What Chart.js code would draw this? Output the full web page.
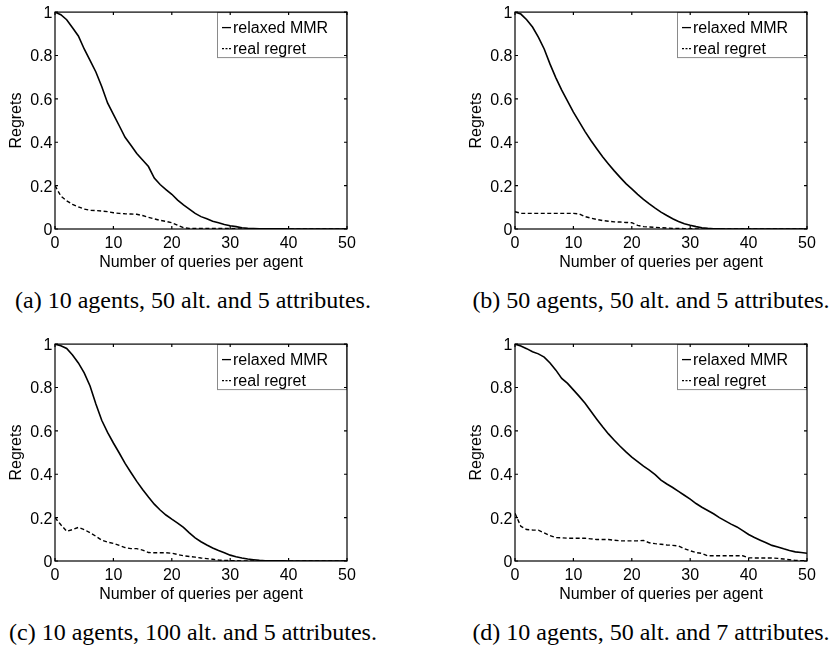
<!DOCTYPE html>
<html>
<head>
<meta charset="utf-8">
<script src="https://cdn.jsdelivr.net/npm/chart.js@4.4.1/dist/chart.umd.min.js"></script>
<style>
  html, body { margin: 0; padding: 0; background: #fff; }
  #wrap { position: relative; width: 832px; height: 650px; overflow: hidden; }
  canvas { position: absolute; }
  .cap { position: absolute; width: 420px; margin-left: -210px; text-align: center;
         font-family: 'Liberation Serif', 'Times New Roman', serif; font-size: 24px;
         line-height: 28px; white-space: nowrap; color: #000; }
</style>
</head>
<body>
<div id="wrap">
  <canvas id="ca" width="372" height="280" style="left:0px;top:0px"></canvas>
  <canvas id="cb" width="372" height="280" style="left:460px;top:0px"></canvas>
  <canvas id="cc" width="372" height="280" style="left:0px;top:332px"></canvas>
  <canvas id="cd" width="372" height="280" style="left:460px;top:332px"></canvas>
  <div class="cap" style="left:193px;top:286px">(a) 10 agents, 50 alt. and 5 attributes.</div>
  <div class="cap" style="left:651px;top:286px">(b) 50 agents, 50 alt. and 5 attributes.</div>
  <div class="cap" style="left:193px;top:618px">(c) 10 agents, 100 alt. and 5 attributes.</div>
  <div class="cap" style="left:651px;top:618px">(d) 10 agents, 50 alt. and 7 attributes.</div>
</div>
<script>
// ---------- data ----------
const queries = [0,1,2,3,4,5,6,7,8,9,10,11,12,13,14,15,16,17,18,19,20,21,22,23,24,25,26,27,28,29,30,31,32,33,34,35,36,37,38,39,40,41,42,43,44,45,46,47,48,49,50];
const seriesNames = ['relaxed MMR', 'real regret'];
const xTicks = [0, 10, 20, 30, 40, 50];
const yTicks = [0, 0.2, 0.4, 0.6, 0.8, 1];

// (a) 10 agents, 50 alt., 5 attributes
const mmrA  = [1.0,0.988,0.965,0.928,0.89,0.83,0.777,0.724,0.657,0.581,0.529,0.476,0.423,0.386,0.348,0.318,0.288,0.235,0.205,0.182,0.16,0.133,0.111,0.092,0.072,0.057,0.047,0.036,0.029,0.021,0.015,0.011,0.006,0.003,0.002,0.001,0.001,0.001,0.0005,0.0005,0,0,0,0,0,0,0,0,0,0,0];
const realA = [0.2,0.152,0.13,0.114,0.102,0.092,0.086,0.085,0.083,0.08,0.075,0.072,0.07,0.069,0.068,0.062,0.054,0.047,0.04,0.035,0.029,0.017,0.006,0.003,0.003,0.003,0.003,0.003,0.003,0.003,0.003,0.001,0,0,0,0,0,0,0,0,0,0,0,0,0,0,0,0,0,0,0];
// (b) 50 agents, 50 alt., 5 attributes
const mmrB  = [1.0,0.991,0.965,0.931,0.885,0.83,0.76,0.697,0.64,0.589,0.539,0.494,0.449,0.408,0.37,0.333,0.3,0.268,0.238,0.209,0.185,0.16,0.137,0.116,0.096,0.078,0.062,0.047,0.035,0.024,0.017,0.011,0.006,0.003,0.0015,0.0005,0,0,0,0,0,0,0,0,0,0,0,0,0,0,0];
const realB = [0.08,0.072,0.072,0.072,0.072,0.072,0.072,0.072,0.072,0.072,0.072,0.069,0.057,0.05,0.044,0.039,0.036,0.033,0.032,0.03,0.029,0.017,0.011,0.009,0.0075,0.006,0.0045,0.003,0.003,0.0015,0.0015,0,0,0,0,0,0,0,0,0,0,0,0,0,0,0,0,0,0,0,0];
// (c) 10 agents, 100 alt., 5 attributes
const mmrC  = [1.0,0.992,0.98,0.95,0.913,0.867,0.807,0.724,0.649,0.593,0.544,0.498,0.45,0.408,0.367,0.33,0.295,0.262,0.235,0.212,0.193,0.175,0.155,0.13,0.107,0.089,0.074,0.06,0.048,0.038,0.027,0.02,0.014,0.009,0.006,0.003,0.0015,0.0005,0.0005,0.0005,0,0,0,0,0,0,0,0,0,0,0];
const realC = [0.2,0.167,0.137,0.145,0.155,0.145,0.13,0.114,0.096,0.087,0.081,0.072,0.062,0.057,0.057,0.05,0.039,0.038,0.038,0.038,0.036,0.03,0.024,0.021,0.018,0.014,0.011,0.008,0.0045,0.003,0.0015,0.0015,0,0,0,0,0,0,0,0,0,0,0,0,0,0,0,0,0,0,0];
// (d) 10 agents, 50 alt., 7 attributes
const mmrD  = [1.0,0.991,0.979,0.965,0.955,0.94,0.913,0.88,0.842,0.819,0.789,0.759,0.727,0.69,0.654,0.619,0.586,0.557,0.529,0.503,0.479,0.458,0.437,0.419,0.398,0.373,0.355,0.339,0.321,0.303,0.285,0.265,0.248,0.233,0.218,0.2,0.185,0.17,0.157,0.14,0.122,0.108,0.096,0.084,0.072,0.065,0.056,0.048,0.042,0.039,0.036];
const realD = [0.22,0.16,0.145,0.143,0.142,0.13,0.117,0.108,0.107,0.105,0.105,0.105,0.105,0.102,0.099,0.099,0.099,0.096,0.093,0.093,0.093,0.093,0.095,0.084,0.08,0.077,0.074,0.072,0.069,0.057,0.047,0.039,0.035,0.024,0.024,0.024,0.024,0.024,0.024,0.024,0.015,0.014,0.014,0.014,0.014,0.012,0.009,0.006,0.003,0.0015,0.001];

// ---------- plugins ----------
const FONT = "'Liberation Sans', Arial, Helvetica, sans-serif";

const legendBoxPlugin = {
  id: 'legendBox',
  afterDatasetsDraw(chart) {
    const {ctx, chartArea: a} = chart;
    const w = 130, h = 45;
    const lx = a.right - w, ly = a.top;
    ctx.save();
    ctx.fillStyle = '#fff';
    ctx.fillRect(lx, ly, w, h);
    ctx.strokeStyle = '#8a8a8a';
    ctx.lineWidth = 1;
    ctx.strokeRect(lx + 0.5, ly + 0.5, w - 1, h);
    ctx.font = '16px ' + FONT;
    ctx.textBaseline = 'middle';
    ctx.textAlign = 'left';
    chart.data.datasets.forEach((ds, i) => {
      const ry = ly + 15.5 + i * 21;
      ctx.strokeStyle = '#000';
      ctx.lineWidth = 1.3;
      ctx.setLineDash(i === 0 ? [] : [2, 1.5]);
      ctx.beginPath();
      ctx.moveTo(lx + 5, ry);
      ctx.lineTo(lx + 14, ry);
      ctx.stroke();
      ctx.setLineDash([]);
      ctx.fillStyle = '#000';
      ctx.fillText(ds.label, lx + 16, ry + 1);
    });
    ctx.restore();
  }
};

const framePlugin = {
  id: 'frame',
  afterDraw(chart) {
    const {ctx, chartArea: a, scales: {x, y}} = chart;
    const tl = 3;
    ctx.save();
    ctx.strokeStyle = '#000';
    ctx.lineWidth = 1.2;
    ctx.strokeRect(a.left, a.top, a.right - a.left, a.bottom - a.top);
    ctx.beginPath();
    x.ticks.forEach(t => {
      const px = x.getPixelForValue(t.value);
      ctx.moveTo(px, a.bottom); ctx.lineTo(px, a.bottom - tl);
      ctx.moveTo(px, a.top); ctx.lineTo(px, a.top + tl);
    });
    y.ticks.forEach(t => {
      const py = y.getPixelForValue(t.value);
      ctx.moveTo(a.left, py); ctx.lineTo(a.left + tl, py);
      ctx.moveTo(a.right, py); ctx.lineTo(a.right - tl, py);
    });
    ctx.stroke();
    ctx.restore();
  }
};

// ---------- charts ----------
Chart.defaults.font.family = FONT;
Chart.defaults.font.size = 16;
Chart.defaults.color = '#000';

function makeChart(id, mmr, real) {
  const toPts = vals => queries.map((q, i) => ({x: q, y: vals[i]}));
  return new Chart(document.getElementById(id), {
    type: 'line',
    data: {
      datasets: [
        { label: seriesNames[0], data: toPts(mmr), borderColor: '#000', borderWidth: 1.6,
          pointRadius: 0, tension: 0, fill: false },
        { label: seriesNames[1], data: toPts(real), borderColor: '#000', borderWidth: 1.4,
          borderDash: [4, 2.5], pointRadius: 0, tension: 0, fill: false }
      ]
    },
    options: {
      responsive: false,
      animation: false,
      events: [],
      layout: { autoPadding: false, padding: { left: 0, top: 7, right: 25, bottom: 7.4 } },
      plugins: { legend: { display: false }, tooltip: { enabled: false }, title: { display: false } },
      scales: {
        x: {
          type: 'linear', min: 0, max: 50,
          afterFit: s => { s.height = 43.6; },
          afterBuildTicks: s => { s.ticks = xTicks.map(v => ({value: v})); },
          grid: { display: false, drawTicks: false },
          border: { display: false },
          ticks: { padding: 5, maxRotation: 0, autoSkip: false, color: '#000',
                   callback: v => String(v) },
          title: { display: true, text: 'Number of queries per agent', color: '#000',
                   padding: { top: 0, bottom: 0 }, font: { size: 16 } }
        },
        y: {
          type: 'linear', min: 0, max: 1,
          afterFit: s => { s.width = 55; },
          afterBuildTicks: s => { s.ticks = yTicks.map(v => ({value: v})); },
          grid: { display: false, drawTicks: false },
          border: { display: false },
          ticks: { padding: 2.5, labelOffset: 1.5, autoSkip: false, color: '#000',
                   callback: v => String(v) },
          title: { display: true, text: 'Regrets', color: '#000',
                   padding: { top: 7.4, bottom: 0 }, font: { size: 16 } }
        }
      }
    },
    plugins: [legendBoxPlugin, framePlugin]
  });
}

makeChart('ca', mmrA, realA);
makeChart('cb', mmrB, realB);
makeChart('cc', mmrC, realC);
makeChart('cd', mmrD, realD);
</script>
</body>
</html>
